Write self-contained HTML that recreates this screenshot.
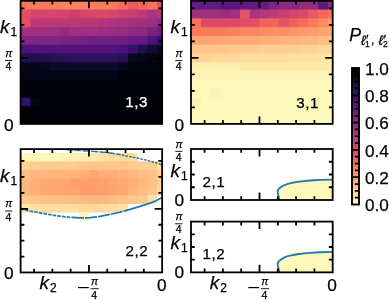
<!DOCTYPE html>
<html><head><meta charset="utf-8"><style>
html,body{margin:0;padding:0;background:#fff;}
body{width:389px;height:300px;overflow:hidden;}
svg{display:block;will-change:transform;}
text{font-family:"Liberation Sans",sans-serif;}
</style></head><body>
<svg width="389" height="300" viewBox="0 0 389 300">
<clipPath id="c1"><rect x="20.60" y="0.80" width="141.55" height="123.10"/></clipPath><g clip-path="url(#c1)">
<rect x="20.60" y="0.80" width="10.79" height="9.77" fill="#f9785d"/>
<rect x="30.39" y="0.80" width="10.76" height="9.77" fill="#f9785d"/>
<rect x="40.15" y="0.80" width="10.76" height="9.77" fill="#f9795d"/>
<rect x="49.91" y="0.80" width="10.76" height="9.77" fill="#fa7d5e"/>
<rect x="59.67" y="0.80" width="10.76" height="9.77" fill="#fb835f"/>
<rect x="69.43" y="0.80" width="10.76" height="9.77" fill="#fb835f"/>
<rect x="79.19" y="0.80" width="10.76" height="9.77" fill="#fb835f"/>
<rect x="88.95" y="0.80" width="10.76" height="9.77" fill="#fa7d5e"/>
<rect x="98.71" y="0.80" width="10.76" height="9.77" fill="#fa7d5e"/>
<rect x="108.47" y="0.80" width="10.76" height="9.77" fill="#f9795d"/>
<rect x="118.23" y="0.80" width="10.76" height="9.77" fill="#f56b5c"/>
<rect x="127.99" y="0.80" width="10.76" height="9.77" fill="#ec5860"/>
<rect x="137.75" y="0.80" width="10.76" height="9.77" fill="#f2645c"/>
<rect x="147.51" y="0.80" width="10.76" height="9.77" fill="#f8745c"/>
<rect x="157.27" y="0.80" width="4.88" height="9.77" fill="#e44f64"/>
<rect x="20.60" y="9.57" width="10.79" height="9.79" fill="#e24d66"/>
<rect x="30.39" y="9.57" width="10.76" height="9.79" fill="#d8456c"/>
<rect x="40.15" y="9.57" width="10.76" height="9.79" fill="#d8456c"/>
<rect x="49.91" y="9.57" width="10.76" height="9.79" fill="#d8456c"/>
<rect x="59.67" y="9.57" width="10.76" height="9.79" fill="#d8456c"/>
<rect x="69.43" y="9.57" width="10.76" height="9.79" fill="#ca3e72"/>
<rect x="79.19" y="9.57" width="10.76" height="9.79" fill="#d6456c"/>
<rect x="88.95" y="9.57" width="10.76" height="9.79" fill="#db476a"/>
<rect x="98.71" y="9.57" width="10.76" height="9.79" fill="#db476a"/>
<rect x="108.47" y="9.57" width="10.76" height="9.79" fill="#d5446d"/>
<rect x="118.23" y="9.57" width="10.76" height="9.79" fill="#d0416f"/>
<rect x="127.99" y="9.57" width="10.76" height="9.79" fill="#ca3e72"/>
<rect x="137.75" y="9.57" width="10.76" height="9.79" fill="#bf3a77"/>
<rect x="147.51" y="9.57" width="10.76" height="9.79" fill="#aa337d"/>
<rect x="157.27" y="9.57" width="4.88" height="9.79" fill="#b73779"/>
<rect x="20.60" y="18.36" width="10.79" height="9.79" fill="#e44f64"/>
<rect x="30.39" y="18.36" width="10.76" height="9.79" fill="#bc3978"/>
<rect x="40.15" y="18.36" width="10.76" height="9.79" fill="#bc3978"/>
<rect x="49.91" y="18.36" width="10.76" height="9.79" fill="#bc3978"/>
<rect x="59.67" y="18.36" width="10.76" height="9.79" fill="#bc3978"/>
<rect x="69.43" y="18.36" width="10.76" height="9.79" fill="#bc3978"/>
<rect x="79.19" y="18.36" width="10.76" height="9.79" fill="#b73779"/>
<rect x="88.95" y="18.36" width="10.76" height="9.79" fill="#b73779"/>
<rect x="98.71" y="18.36" width="10.76" height="9.79" fill="#b2357b"/>
<rect x="108.47" y="18.36" width="10.76" height="9.79" fill="#ad347c"/>
<rect x="118.23" y="18.36" width="10.76" height="9.79" fill="#aa337d"/>
<rect x="127.99" y="18.36" width="10.76" height="9.79" fill="#a5317e"/>
<rect x="137.75" y="18.36" width="10.76" height="9.79" fill="#a1307e"/>
<rect x="147.51" y="18.36" width="10.76" height="9.79" fill="#9c2e7f"/>
<rect x="157.27" y="18.36" width="4.88" height="9.79" fill="#8c2981"/>
<rect x="20.60" y="27.16" width="10.79" height="9.79" fill="#a1307e"/>
<rect x="30.39" y="27.16" width="10.76" height="9.79" fill="#a1307e"/>
<rect x="40.15" y="27.16" width="10.76" height="9.79" fill="#a1307e"/>
<rect x="49.91" y="27.16" width="10.76" height="9.79" fill="#a1307e"/>
<rect x="59.67" y="27.16" width="10.76" height="9.79" fill="#942c80"/>
<rect x="69.43" y="27.16" width="10.76" height="9.79" fill="#a1307e"/>
<rect x="79.19" y="27.16" width="10.76" height="9.79" fill="#a1307e"/>
<rect x="88.95" y="27.16" width="10.76" height="9.79" fill="#a1307e"/>
<rect x="98.71" y="27.16" width="10.76" height="9.79" fill="#9c2e7f"/>
<rect x="108.47" y="27.16" width="10.76" height="9.79" fill="#992d80"/>
<rect x="118.23" y="27.16" width="10.76" height="9.79" fill="#942c80"/>
<rect x="127.99" y="27.16" width="10.76" height="9.79" fill="#902a81"/>
<rect x="137.75" y="27.16" width="10.76" height="9.79" fill="#8c2981"/>
<rect x="147.51" y="27.16" width="10.76" height="9.79" fill="#7c2382"/>
<rect x="157.27" y="27.16" width="4.88" height="9.79" fill="#701f81"/>
<rect x="20.60" y="35.95" width="10.79" height="9.79" fill="#802582"/>
<rect x="30.39" y="35.95" width="10.76" height="9.79" fill="#802582"/>
<rect x="40.15" y="35.95" width="10.76" height="9.79" fill="#802582"/>
<rect x="49.91" y="35.95" width="10.76" height="9.79" fill="#802582"/>
<rect x="59.67" y="35.95" width="10.76" height="9.79" fill="#7c2382"/>
<rect x="69.43" y="35.95" width="10.76" height="9.79" fill="#782281"/>
<rect x="79.19" y="35.95" width="10.76" height="9.79" fill="#752181"/>
<rect x="88.95" y="35.95" width="10.76" height="9.79" fill="#701f81"/>
<rect x="98.71" y="35.95" width="10.76" height="9.79" fill="#701f81"/>
<rect x="108.47" y="35.95" width="10.76" height="9.79" fill="#701f81"/>
<rect x="118.23" y="35.95" width="10.76" height="9.79" fill="#701f81"/>
<rect x="127.99" y="35.95" width="10.76" height="9.79" fill="#641a80"/>
<rect x="137.75" y="35.95" width="10.76" height="9.79" fill="#641a80"/>
<rect x="147.51" y="35.95" width="10.76" height="9.79" fill="#51127c"/>
<rect x="157.27" y="35.95" width="4.88" height="9.79" fill="#3b0f70"/>
<rect x="20.60" y="44.75" width="10.79" height="9.79" fill="#4c117a"/>
<rect x="30.39" y="44.75" width="10.76" height="9.79" fill="#51127c"/>
<rect x="40.15" y="44.75" width="10.76" height="9.79" fill="#51127c"/>
<rect x="49.91" y="44.75" width="10.76" height="9.79" fill="#51127c"/>
<rect x="59.67" y="44.75" width="10.76" height="9.79" fill="#51127c"/>
<rect x="69.43" y="44.75" width="10.76" height="9.79" fill="#51127c"/>
<rect x="79.19" y="44.75" width="10.76" height="9.79" fill="#51127c"/>
<rect x="88.95" y="44.75" width="10.76" height="9.79" fill="#51127c"/>
<rect x="98.71" y="44.75" width="10.76" height="9.79" fill="#51127c"/>
<rect x="108.47" y="44.75" width="10.76" height="9.79" fill="#51127c"/>
<rect x="118.23" y="44.75" width="10.76" height="9.79" fill="#4c117a"/>
<rect x="127.99" y="44.75" width="10.76" height="9.79" fill="#36106b"/>
<rect x="137.75" y="44.75" width="10.76" height="9.79" fill="#1e1149"/>
<rect x="147.51" y="44.75" width="10.76" height="9.79" fill="#120d31"/>
<rect x="157.27" y="44.75" width="4.88" height="9.79" fill="#0b0924"/>
<rect x="20.60" y="53.54" width="10.79" height="9.79" fill="#21114e"/>
<rect x="30.39" y="53.54" width="10.76" height="9.79" fill="#1e1149"/>
<rect x="40.15" y="53.54" width="10.76" height="9.79" fill="#21114e"/>
<rect x="49.91" y="53.54" width="10.76" height="9.79" fill="#251255"/>
<rect x="59.67" y="53.54" width="10.76" height="9.79" fill="#29115a"/>
<rect x="69.43" y="53.54" width="10.76" height="9.79" fill="#2d1161"/>
<rect x="79.19" y="53.54" width="10.76" height="9.79" fill="#2d1161"/>
<rect x="88.95" y="53.54" width="10.76" height="9.79" fill="#2d1161"/>
<rect x="98.71" y="53.54" width="10.76" height="9.79" fill="#2d1161"/>
<rect x="108.47" y="53.54" width="10.76" height="9.79" fill="#2d1161"/>
<rect x="118.23" y="53.54" width="10.76" height="9.79" fill="#29115a"/>
<rect x="127.99" y="53.54" width="10.76" height="9.79" fill="#090720"/>
<rect x="137.75" y="53.54" width="10.76" height="9.79" fill="#06051a"/>
<rect x="147.51" y="53.54" width="10.76" height="9.79" fill="#050416"/>
<rect x="157.27" y="53.54" width="4.88" height="9.79" fill="#050416"/>
<rect x="20.60" y="62.34" width="10.79" height="9.79" fill="#06051a"/>
<rect x="30.39" y="62.34" width="10.76" height="9.79" fill="#06051a"/>
<rect x="40.15" y="62.34" width="10.76" height="9.79" fill="#090720"/>
<rect x="49.91" y="62.34" width="10.76" height="9.79" fill="#0b0924"/>
<rect x="59.67" y="62.34" width="10.76" height="9.79" fill="#0b0924"/>
<rect x="69.43" y="62.34" width="10.76" height="9.79" fill="#0b0924"/>
<rect x="79.19" y="62.34" width="10.76" height="9.79" fill="#0b0924"/>
<rect x="88.95" y="62.34" width="10.76" height="9.79" fill="#0b0924"/>
<rect x="98.71" y="62.34" width="10.76" height="9.79" fill="#0b0924"/>
<rect x="108.47" y="62.34" width="10.76" height="9.79" fill="#0b0924"/>
<rect x="118.23" y="62.34" width="10.76" height="9.79" fill="#06051a"/>
<rect x="127.99" y="62.34" width="10.76" height="9.79" fill="#03030f"/>
<rect x="137.75" y="62.34" width="10.76" height="9.79" fill="#03030f"/>
<rect x="147.51" y="62.34" width="10.76" height="9.79" fill="#03030f"/>
<rect x="157.27" y="62.34" width="4.88" height="9.79" fill="#03030f"/>
<rect x="20.60" y="71.13" width="10.79" height="9.79" fill="#050416"/>
<rect x="30.39" y="71.13" width="10.76" height="9.79" fill="#050416"/>
<rect x="40.15" y="71.13" width="10.76" height="9.79" fill="#050416"/>
<rect x="49.91" y="71.13" width="10.76" height="9.79" fill="#050416"/>
<rect x="59.67" y="71.13" width="10.76" height="9.79" fill="#050416"/>
<rect x="69.43" y="71.13" width="10.76" height="9.79" fill="#050416"/>
<rect x="79.19" y="71.13" width="10.76" height="9.79" fill="#050416"/>
<rect x="88.95" y="71.13" width="10.76" height="9.79" fill="#050416"/>
<rect x="98.71" y="71.13" width="10.76" height="9.79" fill="#050416"/>
<rect x="108.47" y="71.13" width="10.76" height="9.79" fill="#050416"/>
<rect x="118.23" y="71.13" width="10.76" height="9.79" fill="#02020d"/>
<rect x="127.99" y="71.13" width="10.76" height="9.79" fill="#02020d"/>
<rect x="137.75" y="71.13" width="10.76" height="9.79" fill="#02020d"/>
<rect x="147.51" y="71.13" width="10.76" height="9.79" fill="#02020d"/>
<rect x="157.27" y="71.13" width="4.88" height="9.79" fill="#02020d"/>
<rect x="20.60" y="79.93" width="10.79" height="9.79" fill="#02020b"/>
<rect x="30.39" y="79.93" width="10.76" height="9.79" fill="#02020b"/>
<rect x="40.15" y="79.93" width="10.76" height="9.79" fill="#02020b"/>
<rect x="49.91" y="79.93" width="10.76" height="9.79" fill="#02020b"/>
<rect x="59.67" y="79.93" width="10.76" height="9.79" fill="#02020b"/>
<rect x="69.43" y="79.93" width="10.76" height="9.79" fill="#02020b"/>
<rect x="79.19" y="79.93" width="10.76" height="9.79" fill="#02020b"/>
<rect x="88.95" y="79.93" width="10.76" height="9.79" fill="#02020b"/>
<rect x="98.71" y="79.93" width="10.76" height="9.79" fill="#02020b"/>
<rect x="108.47" y="79.93" width="10.76" height="9.79" fill="#02020b"/>
<rect x="118.23" y="79.93" width="10.76" height="9.79" fill="#02020b"/>
<rect x="127.99" y="79.93" width="10.76" height="9.79" fill="#02020b"/>
<rect x="137.75" y="79.93" width="10.76" height="9.79" fill="#02020b"/>
<rect x="147.51" y="79.93" width="10.76" height="9.79" fill="#02020b"/>
<rect x="157.27" y="79.93" width="4.88" height="9.79" fill="#02020b"/>
<rect x="20.60" y="88.72" width="10.79" height="9.79" fill="#010108"/>
<rect x="30.39" y="88.72" width="10.76" height="9.79" fill="#010108"/>
<rect x="40.15" y="88.72" width="10.76" height="9.79" fill="#010108"/>
<rect x="49.91" y="88.72" width="10.76" height="9.79" fill="#010108"/>
<rect x="59.67" y="88.72" width="10.76" height="9.79" fill="#010108"/>
<rect x="69.43" y="88.72" width="10.76" height="9.79" fill="#010108"/>
<rect x="79.19" y="88.72" width="10.76" height="9.79" fill="#010108"/>
<rect x="88.95" y="88.72" width="10.76" height="9.79" fill="#010108"/>
<rect x="98.71" y="88.72" width="10.76" height="9.79" fill="#010108"/>
<rect x="108.47" y="88.72" width="10.76" height="9.79" fill="#010108"/>
<rect x="118.23" y="88.72" width="10.76" height="9.79" fill="#010108"/>
<rect x="127.99" y="88.72" width="10.76" height="9.79" fill="#010108"/>
<rect x="137.75" y="88.72" width="10.76" height="9.79" fill="#010108"/>
<rect x="147.51" y="88.72" width="10.76" height="9.79" fill="#010108"/>
<rect x="157.27" y="88.72" width="4.88" height="9.79" fill="#010108"/>
<rect x="20.60" y="97.52" width="10.79" height="9.79" fill="#331067"/>
<rect x="30.39" y="97.52" width="10.76" height="9.79" fill="#050416"/>
<rect x="40.15" y="97.52" width="10.76" height="9.79" fill="#010108"/>
<rect x="49.91" y="97.52" width="10.76" height="9.79" fill="#010108"/>
<rect x="59.67" y="97.52" width="10.76" height="9.79" fill="#010108"/>
<rect x="69.43" y="97.52" width="10.76" height="9.79" fill="#010108"/>
<rect x="79.19" y="97.52" width="10.76" height="9.79" fill="#010108"/>
<rect x="88.95" y="97.52" width="10.76" height="9.79" fill="#010108"/>
<rect x="98.71" y="97.52" width="10.76" height="9.79" fill="#010108"/>
<rect x="108.47" y="97.52" width="10.76" height="9.79" fill="#010108"/>
<rect x="118.23" y="97.52" width="10.76" height="9.79" fill="#010108"/>
<rect x="127.99" y="97.52" width="10.76" height="9.79" fill="#010108"/>
<rect x="137.75" y="97.52" width="10.76" height="9.79" fill="#010108"/>
<rect x="147.51" y="97.52" width="10.76" height="9.79" fill="#010108"/>
<rect x="157.27" y="97.52" width="4.88" height="9.79" fill="#010108"/>
<rect x="20.60" y="106.31" width="10.79" height="9.79" fill="#010108"/>
<rect x="30.39" y="106.31" width="10.76" height="9.79" fill="#010108"/>
<rect x="40.15" y="106.31" width="10.76" height="9.79" fill="#010108"/>
<rect x="49.91" y="106.31" width="10.76" height="9.79" fill="#010108"/>
<rect x="59.67" y="106.31" width="10.76" height="9.79" fill="#010108"/>
<rect x="69.43" y="106.31" width="10.76" height="9.79" fill="#010108"/>
<rect x="79.19" y="106.31" width="10.76" height="9.79" fill="#010108"/>
<rect x="88.95" y="106.31" width="10.76" height="9.79" fill="#010108"/>
<rect x="98.71" y="106.31" width="10.76" height="9.79" fill="#010108"/>
<rect x="108.47" y="106.31" width="10.76" height="9.79" fill="#010108"/>
<rect x="118.23" y="106.31" width="10.76" height="9.79" fill="#010108"/>
<rect x="127.99" y="106.31" width="10.76" height="9.79" fill="#010108"/>
<rect x="137.75" y="106.31" width="10.76" height="9.79" fill="#010108"/>
<rect x="147.51" y="106.31" width="10.76" height="9.79" fill="#010108"/>
<rect x="157.27" y="106.31" width="4.88" height="9.79" fill="#010108"/>
<rect x="20.60" y="115.11" width="10.79" height="8.79" fill="#010108"/>
<rect x="30.39" y="115.11" width="10.76" height="8.79" fill="#010108"/>
<rect x="40.15" y="115.11" width="10.76" height="8.79" fill="#010108"/>
<rect x="49.91" y="115.11" width="10.76" height="8.79" fill="#010108"/>
<rect x="59.67" y="115.11" width="10.76" height="8.79" fill="#010108"/>
<rect x="69.43" y="115.11" width="10.76" height="8.79" fill="#010108"/>
<rect x="79.19" y="115.11" width="10.76" height="8.79" fill="#010108"/>
<rect x="88.95" y="115.11" width="10.76" height="8.79" fill="#010108"/>
<rect x="98.71" y="115.11" width="10.76" height="8.79" fill="#010108"/>
<rect x="108.47" y="115.11" width="10.76" height="8.79" fill="#010108"/>
<rect x="118.23" y="115.11" width="10.76" height="8.79" fill="#010108"/>
<rect x="127.99" y="115.11" width="10.76" height="8.79" fill="#010108"/>
<rect x="137.75" y="115.11" width="10.76" height="8.79" fill="#010108"/>
<rect x="147.51" y="115.11" width="10.76" height="8.79" fill="#010108"/>
<rect x="157.27" y="115.11" width="4.88" height="8.79" fill="#010108"/>
</g>
<clipPath id="c2"><rect x="191.00" y="0.80" width="141.70" height="123.10"/></clipPath><g clip-path="url(#c2)">
<rect x="191.00" y="0.80" width="10.94" height="9.77" fill="#641a80"/>
<rect x="200.94" y="0.80" width="10.76" height="9.77" fill="#641a80"/>
<rect x="210.70" y="0.80" width="10.76" height="9.77" fill="#641a80"/>
<rect x="220.46" y="0.80" width="10.76" height="9.77" fill="#5c167f"/>
<rect x="230.22" y="0.80" width="10.76" height="9.77" fill="#5c167f"/>
<rect x="239.98" y="0.80" width="10.76" height="9.77" fill="#641a80"/>
<rect x="249.74" y="0.80" width="10.76" height="9.77" fill="#641a80"/>
<rect x="259.50" y="0.80" width="10.76" height="9.77" fill="#681c81"/>
<rect x="269.26" y="0.80" width="10.76" height="9.77" fill="#802582"/>
<rect x="279.02" y="0.80" width="10.76" height="9.77" fill="#8c2981"/>
<rect x="288.78" y="0.80" width="10.76" height="9.77" fill="#8c2981"/>
<rect x="298.54" y="0.80" width="10.76" height="9.77" fill="#942c80"/>
<rect x="308.30" y="0.80" width="10.76" height="9.77" fill="#942c80"/>
<rect x="318.06" y="0.80" width="10.76" height="9.77" fill="#5c167f"/>
<rect x="327.82" y="0.80" width="4.88" height="9.77" fill="#8c2981"/>
<rect x="191.00" y="9.57" width="10.94" height="9.79" fill="#a1307e"/>
<rect x="200.94" y="9.57" width="10.76" height="9.79" fill="#a1307e"/>
<rect x="210.70" y="9.57" width="10.76" height="9.79" fill="#a1307e"/>
<rect x="220.46" y="9.57" width="10.76" height="9.79" fill="#992d80"/>
<rect x="230.22" y="9.57" width="10.76" height="9.79" fill="#a1307e"/>
<rect x="239.98" y="9.57" width="10.76" height="9.79" fill="#e85362"/>
<rect x="249.74" y="9.57" width="10.76" height="9.79" fill="#aa337d"/>
<rect x="259.50" y="9.57" width="10.76" height="9.79" fill="#b73779"/>
<rect x="269.26" y="9.57" width="10.76" height="9.79" fill="#c23b75"/>
<rect x="279.02" y="9.57" width="10.76" height="9.79" fill="#ca3e72"/>
<rect x="288.78" y="9.57" width="10.76" height="9.79" fill="#d6456c"/>
<rect x="298.54" y="9.57" width="10.76" height="9.79" fill="#de4968"/>
<rect x="308.30" y="9.57" width="10.76" height="9.79" fill="#ea5661"/>
<rect x="318.06" y="9.57" width="10.76" height="9.79" fill="#f4675c"/>
<rect x="327.82" y="9.57" width="4.88" height="9.79" fill="#f7705c"/>
<rect x="191.00" y="18.36" width="10.94" height="9.79" fill="#f7705c"/>
<rect x="200.94" y="18.36" width="10.76" height="9.79" fill="#de4968"/>
<rect x="210.70" y="18.36" width="10.76" height="9.79" fill="#de4968"/>
<rect x="220.46" y="18.36" width="10.76" height="9.79" fill="#de4968"/>
<rect x="230.22" y="18.36" width="10.76" height="9.79" fill="#de4968"/>
<rect x="239.98" y="18.36" width="10.76" height="9.79" fill="#e24d66"/>
<rect x="249.74" y="18.36" width="10.76" height="9.79" fill="#e44f64"/>
<rect x="259.50" y="18.36" width="10.76" height="9.79" fill="#f2625d"/>
<rect x="269.26" y="18.36" width="10.76" height="9.79" fill="#f2625d"/>
<rect x="279.02" y="18.36" width="10.76" height="9.79" fill="#e85362"/>
<rect x="288.78" y="18.36" width="10.76" height="9.79" fill="#f2625d"/>
<rect x="298.54" y="18.36" width="10.76" height="9.79" fill="#f56b5c"/>
<rect x="308.30" y="18.36" width="10.76" height="9.79" fill="#f9795d"/>
<rect x="318.06" y="18.36" width="10.76" height="9.79" fill="#fc8961"/>
<rect x="327.82" y="18.36" width="4.88" height="9.79" fill="#fd9b6b"/>
<rect x="191.00" y="27.16" width="10.94" height="9.79" fill="#f9785d"/>
<rect x="200.94" y="27.16" width="10.76" height="9.79" fill="#f9795d"/>
<rect x="210.70" y="27.16" width="10.76" height="9.79" fill="#f97b5d"/>
<rect x="220.46" y="27.16" width="10.76" height="9.79" fill="#f97b5d"/>
<rect x="230.22" y="27.16" width="10.76" height="9.79" fill="#fa815f"/>
<rect x="239.98" y="27.16" width="10.76" height="9.79" fill="#fb8560"/>
<rect x="249.74" y="27.16" width="10.76" height="9.79" fill="#fb8560"/>
<rect x="259.50" y="27.16" width="10.76" height="9.79" fill="#fc8a62"/>
<rect x="269.26" y="27.16" width="10.76" height="9.79" fill="#fc8e64"/>
<rect x="279.02" y="27.16" width="10.76" height="9.79" fill="#fc8e64"/>
<rect x="288.78" y="27.16" width="10.76" height="9.79" fill="#fd9467"/>
<rect x="298.54" y="27.16" width="10.76" height="9.79" fill="#fd9869"/>
<rect x="308.30" y="27.16" width="10.76" height="9.79" fill="#fe9d6c"/>
<rect x="318.06" y="27.16" width="10.76" height="9.79" fill="#fea36f"/>
<rect x="327.82" y="27.16" width="4.88" height="9.79" fill="#fea772"/>
<rect x="191.00" y="35.95" width="10.94" height="9.79" fill="#fea571"/>
<rect x="200.94" y="35.95" width="10.76" height="9.79" fill="#fea571"/>
<rect x="210.70" y="35.95" width="10.76" height="9.79" fill="#fea571"/>
<rect x="220.46" y="35.95" width="10.76" height="9.79" fill="#fea973"/>
<rect x="230.22" y="35.95" width="10.76" height="9.79" fill="#fea973"/>
<rect x="239.98" y="35.95" width="10.76" height="9.79" fill="#fea973"/>
<rect x="249.74" y="35.95" width="10.76" height="9.79" fill="#fea973"/>
<rect x="259.50" y="35.95" width="10.76" height="9.79" fill="#feae77"/>
<rect x="269.26" y="35.95" width="10.76" height="9.79" fill="#feae77"/>
<rect x="279.02" y="35.95" width="10.76" height="9.79" fill="#feb47b"/>
<rect x="288.78" y="35.95" width="10.76" height="9.79" fill="#feb47b"/>
<rect x="298.54" y="35.95" width="10.76" height="9.79" fill="#feb77e"/>
<rect x="308.30" y="35.95" width="10.76" height="9.79" fill="#feb77e"/>
<rect x="318.06" y="35.95" width="10.76" height="9.79" fill="#febd82"/>
<rect x="327.82" y="35.95" width="4.88" height="9.79" fill="#fec185"/>
<rect x="191.00" y="44.75" width="10.94" height="9.79" fill="#fec68a"/>
<rect x="200.94" y="44.75" width="10.76" height="9.79" fill="#fec68a"/>
<rect x="210.70" y="44.75" width="10.76" height="9.79" fill="#fec68a"/>
<rect x="220.46" y="44.75" width="10.76" height="9.79" fill="#fec68a"/>
<rect x="230.22" y="44.75" width="10.76" height="9.79" fill="#feca8d"/>
<rect x="239.98" y="44.75" width="10.76" height="9.79" fill="#feca8d"/>
<rect x="249.74" y="44.75" width="10.76" height="9.79" fill="#feca8d"/>
<rect x="259.50" y="44.75" width="10.76" height="9.79" fill="#fecf92"/>
<rect x="269.26" y="44.75" width="10.76" height="9.79" fill="#fecf92"/>
<rect x="279.02" y="44.75" width="10.76" height="9.79" fill="#fecf92"/>
<rect x="288.78" y="44.75" width="10.76" height="9.79" fill="#fecf92"/>
<rect x="298.54" y="44.75" width="10.76" height="9.79" fill="#fed395"/>
<rect x="308.30" y="44.75" width="10.76" height="9.79" fill="#fed395"/>
<rect x="318.06" y="44.75" width="10.76" height="9.79" fill="#fed89a"/>
<rect x="327.82" y="44.75" width="4.88" height="9.79" fill="#fed89a"/>
<rect x="191.00" y="53.54" width="10.94" height="9.79" fill="#fed395"/>
<rect x="200.94" y="53.54" width="10.76" height="9.79" fill="#fed395"/>
<rect x="210.70" y="53.54" width="10.76" height="9.79" fill="#fed89a"/>
<rect x="220.46" y="53.54" width="10.76" height="9.79" fill="#fed89a"/>
<rect x="230.22" y="53.54" width="10.76" height="9.79" fill="#fed89a"/>
<rect x="239.98" y="53.54" width="10.76" height="9.79" fill="#fddea0"/>
<rect x="249.74" y="53.54" width="10.76" height="9.79" fill="#fddea0"/>
<rect x="259.50" y="53.54" width="10.76" height="9.79" fill="#fddea0"/>
<rect x="269.26" y="53.54" width="10.76" height="9.79" fill="#fddea0"/>
<rect x="279.02" y="53.54" width="10.76" height="9.79" fill="#fddea0"/>
<rect x="288.78" y="53.54" width="10.76" height="9.79" fill="#fde2a3"/>
<rect x="298.54" y="53.54" width="10.76" height="9.79" fill="#fde2a3"/>
<rect x="308.30" y="53.54" width="10.76" height="9.79" fill="#fde2a3"/>
<rect x="318.06" y="53.54" width="10.76" height="9.79" fill="#fde2a3"/>
<rect x="327.82" y="53.54" width="4.88" height="9.79" fill="#fde7a9"/>
<rect x="191.00" y="62.34" width="10.94" height="9.79" fill="#fceeb0"/>
<rect x="200.94" y="62.34" width="10.76" height="9.79" fill="#fceeb0"/>
<rect x="210.70" y="62.34" width="10.76" height="9.79" fill="#fceeb0"/>
<rect x="220.46" y="62.34" width="10.76" height="9.79" fill="#fceeb0"/>
<rect x="230.22" y="62.34" width="10.76" height="9.79" fill="#fceeb0"/>
<rect x="239.98" y="62.34" width="10.76" height="9.79" fill="#fde9aa"/>
<rect x="249.74" y="62.34" width="10.76" height="9.79" fill="#fde9aa"/>
<rect x="259.50" y="62.34" width="10.76" height="9.79" fill="#fde9aa"/>
<rect x="269.26" y="62.34" width="10.76" height="9.79" fill="#fde9aa"/>
<rect x="279.02" y="62.34" width="10.76" height="9.79" fill="#fde9aa"/>
<rect x="288.78" y="62.34" width="10.76" height="9.79" fill="#fde9aa"/>
<rect x="298.54" y="62.34" width="10.76" height="9.79" fill="#fde9aa"/>
<rect x="308.30" y="62.34" width="10.76" height="9.79" fill="#fde9aa"/>
<rect x="318.06" y="62.34" width="10.76" height="9.79" fill="#fde9aa"/>
<rect x="327.82" y="62.34" width="4.88" height="9.79" fill="#fde9aa"/>
<rect x="191.00" y="71.13" width="10.94" height="9.79" fill="#fcf4b6"/>
<rect x="200.94" y="71.13" width="10.76" height="9.79" fill="#fcf4b6"/>
<rect x="210.70" y="71.13" width="10.76" height="9.79" fill="#fcf4b6"/>
<rect x="220.46" y="71.13" width="10.76" height="9.79" fill="#fcf4b6"/>
<rect x="230.22" y="71.13" width="10.76" height="9.79" fill="#fcf4b6"/>
<rect x="239.98" y="71.13" width="10.76" height="9.79" fill="#fcf4b6"/>
<rect x="249.74" y="71.13" width="10.76" height="9.79" fill="#fcf4b6"/>
<rect x="259.50" y="71.13" width="10.76" height="9.79" fill="#fcf4b6"/>
<rect x="269.26" y="71.13" width="10.76" height="9.79" fill="#fcf4b6"/>
<rect x="279.02" y="71.13" width="10.76" height="9.79" fill="#fcf4b6"/>
<rect x="288.78" y="71.13" width="10.76" height="9.79" fill="#fcf4b6"/>
<rect x="298.54" y="71.13" width="10.76" height="9.79" fill="#fcf4b6"/>
<rect x="308.30" y="71.13" width="10.76" height="9.79" fill="#fcf4b6"/>
<rect x="318.06" y="71.13" width="10.76" height="9.79" fill="#fcf4b6"/>
<rect x="327.82" y="71.13" width="4.88" height="9.79" fill="#fcf4b6"/>
<rect x="191.00" y="79.93" width="10.94" height="9.79" fill="#fcf9bb"/>
<rect x="200.94" y="79.93" width="10.76" height="9.79" fill="#fcf9bb"/>
<rect x="210.70" y="79.93" width="10.76" height="9.79" fill="#fcf9bb"/>
<rect x="220.46" y="79.93" width="10.76" height="9.79" fill="#fcf9bb"/>
<rect x="230.22" y="79.93" width="10.76" height="9.79" fill="#fcf9bb"/>
<rect x="239.98" y="79.93" width="10.76" height="9.79" fill="#fcf9bb"/>
<rect x="249.74" y="79.93" width="10.76" height="9.79" fill="#fcf9bb"/>
<rect x="259.50" y="79.93" width="10.76" height="9.79" fill="#fcf9bb"/>
<rect x="269.26" y="79.93" width="10.76" height="9.79" fill="#fcf9bb"/>
<rect x="279.02" y="79.93" width="10.76" height="9.79" fill="#fcf9bb"/>
<rect x="288.78" y="79.93" width="10.76" height="9.79" fill="#fcf9bb"/>
<rect x="298.54" y="79.93" width="10.76" height="9.79" fill="#fcf9bb"/>
<rect x="308.30" y="79.93" width="10.76" height="9.79" fill="#fcf9bb"/>
<rect x="318.06" y="79.93" width="10.76" height="9.79" fill="#fcf9bb"/>
<rect x="327.82" y="79.93" width="4.88" height="9.79" fill="#fcf9bb"/>
<rect x="191.00" y="88.72" width="10.94" height="9.79" fill="#fcf9bb"/>
<rect x="200.94" y="88.72" width="10.76" height="9.79" fill="#fcf9bb"/>
<rect x="210.70" y="88.72" width="10.76" height="9.79" fill="#fcf2b4"/>
<rect x="220.46" y="88.72" width="10.76" height="9.79" fill="#fcf9bb"/>
<rect x="230.22" y="88.72" width="10.76" height="9.79" fill="#fcf9bb"/>
<rect x="239.98" y="88.72" width="10.76" height="9.79" fill="#fcf9bb"/>
<rect x="249.74" y="88.72" width="10.76" height="9.79" fill="#fcf9bb"/>
<rect x="259.50" y="88.72" width="10.76" height="9.79" fill="#fcf9bb"/>
<rect x="269.26" y="88.72" width="10.76" height="9.79" fill="#fcf9bb"/>
<rect x="279.02" y="88.72" width="10.76" height="9.79" fill="#fcf9bb"/>
<rect x="288.78" y="88.72" width="10.76" height="9.79" fill="#fcf9bb"/>
<rect x="298.54" y="88.72" width="10.76" height="9.79" fill="#fcf9bb"/>
<rect x="308.30" y="88.72" width="10.76" height="9.79" fill="#fcf9bb"/>
<rect x="318.06" y="88.72" width="10.76" height="9.79" fill="#fcf9bb"/>
<rect x="327.82" y="88.72" width="4.88" height="9.79" fill="#fcf9bb"/>
<rect x="191.00" y="97.52" width="10.94" height="9.79" fill="#fcf2b4"/>
<rect x="200.94" y="97.52" width="10.76" height="9.79" fill="#fcf9bb"/>
<rect x="210.70" y="97.52" width="10.76" height="9.79" fill="#fcf9bb"/>
<rect x="220.46" y="97.52" width="10.76" height="9.79" fill="#fcf9bb"/>
<rect x="230.22" y="97.52" width="10.76" height="9.79" fill="#fcf9bb"/>
<rect x="239.98" y="97.52" width="10.76" height="9.79" fill="#fcf9bb"/>
<rect x="249.74" y="97.52" width="10.76" height="9.79" fill="#fcf9bb"/>
<rect x="259.50" y="97.52" width="10.76" height="9.79" fill="#fcf9bb"/>
<rect x="269.26" y="97.52" width="10.76" height="9.79" fill="#fcf9bb"/>
<rect x="279.02" y="97.52" width="10.76" height="9.79" fill="#fcf9bb"/>
<rect x="288.78" y="97.52" width="10.76" height="9.79" fill="#fcf9bb"/>
<rect x="298.54" y="97.52" width="10.76" height="9.79" fill="#fcf9bb"/>
<rect x="308.30" y="97.52" width="10.76" height="9.79" fill="#fcf9bb"/>
<rect x="318.06" y="97.52" width="10.76" height="9.79" fill="#fcf9bb"/>
<rect x="327.82" y="97.52" width="4.88" height="9.79" fill="#fcf9bb"/>
<rect x="191.00" y="106.31" width="10.94" height="9.79" fill="#fcf9bb"/>
<rect x="200.94" y="106.31" width="10.76" height="9.79" fill="#fcf9bb"/>
<rect x="210.70" y="106.31" width="10.76" height="9.79" fill="#fcf9bb"/>
<rect x="220.46" y="106.31" width="10.76" height="9.79" fill="#fcf9bb"/>
<rect x="230.22" y="106.31" width="10.76" height="9.79" fill="#fcf9bb"/>
<rect x="239.98" y="106.31" width="10.76" height="9.79" fill="#fcf9bb"/>
<rect x="249.74" y="106.31" width="10.76" height="9.79" fill="#fcf9bb"/>
<rect x="259.50" y="106.31" width="10.76" height="9.79" fill="#fcf9bb"/>
<rect x="269.26" y="106.31" width="10.76" height="9.79" fill="#fcf9bb"/>
<rect x="279.02" y="106.31" width="10.76" height="9.79" fill="#fcf9bb"/>
<rect x="288.78" y="106.31" width="10.76" height="9.79" fill="#fcf9bb"/>
<rect x="298.54" y="106.31" width="10.76" height="9.79" fill="#fcf9bb"/>
<rect x="308.30" y="106.31" width="10.76" height="9.79" fill="#fcf9bb"/>
<rect x="318.06" y="106.31" width="10.76" height="9.79" fill="#fcf9bb"/>
<rect x="327.82" y="106.31" width="4.88" height="9.79" fill="#fcf9bb"/>
<rect x="191.00" y="115.11" width="10.94" height="8.79" fill="#fcf9bb"/>
<rect x="200.94" y="115.11" width="10.76" height="8.79" fill="#fcf9bb"/>
<rect x="210.70" y="115.11" width="10.76" height="8.79" fill="#fcf9bb"/>
<rect x="220.46" y="115.11" width="10.76" height="8.79" fill="#fcf9bb"/>
<rect x="230.22" y="115.11" width="10.76" height="8.79" fill="#fcf9bb"/>
<rect x="239.98" y="115.11" width="10.76" height="8.79" fill="#fcf9bb"/>
<rect x="249.74" y="115.11" width="10.76" height="8.79" fill="#fcf9bb"/>
<rect x="259.50" y="115.11" width="10.76" height="8.79" fill="#fcf9bb"/>
<rect x="269.26" y="115.11" width="10.76" height="8.79" fill="#fcf9bb"/>
<rect x="279.02" y="115.11" width="10.76" height="8.79" fill="#fcf9bb"/>
<rect x="288.78" y="115.11" width="10.76" height="8.79" fill="#fcf9bb"/>
<rect x="298.54" y="115.11" width="10.76" height="8.79" fill="#fcf9bb"/>
<rect x="308.30" y="115.11" width="10.76" height="8.79" fill="#fcf9bb"/>
<rect x="318.06" y="115.11" width="10.76" height="8.79" fill="#fcf9bb"/>
<rect x="327.82" y="115.11" width="4.88" height="8.79" fill="#fcf9bb"/>
</g>
<clipPath id="c3"><rect x="20.60" y="149.10" width="141.55" height="123.35"/></clipPath><g clip-path="url(#c3)">
<rect x="20.60" y="152.92" width="10.79" height="9.52" fill="#fcf7b9"/>
<rect x="30.39" y="152.92" width="10.76" height="9.52" fill="#fcf7b9"/>
<rect x="40.15" y="152.92" width="10.76" height="9.52" fill="#fcf7b9"/>
<rect x="49.91" y="152.92" width="10.76" height="9.52" fill="#fcf7b9"/>
<rect x="59.67" y="152.92" width="10.76" height="9.52" fill="#fcf4b6"/>
<rect x="69.43" y="152.92" width="10.76" height="9.52" fill="#fcf0b2"/>
<rect x="79.19" y="152.92" width="10.76" height="9.52" fill="#fceeb0"/>
<rect x="88.95" y="152.92" width="10.76" height="9.52" fill="#fde9aa"/>
<rect x="98.71" y="152.92" width="10.76" height="9.52" fill="#fde3a5"/>
<rect x="108.47" y="152.92" width="10.76" height="9.52" fill="#fddea0"/>
<rect x="118.23" y="152.92" width="10.76" height="9.52" fill="#fed799"/>
<rect x="127.99" y="152.92" width="9.76" height="9.52" fill="#fddea0"/>
<rect x="20.60" y="161.44" width="10.79" height="9.52" fill="#fed194"/>
<rect x="30.39" y="161.44" width="10.76" height="9.52" fill="#fecd90"/>
<rect x="40.15" y="161.44" width="10.76" height="9.52" fill="#feca8d"/>
<rect x="49.91" y="161.44" width="10.76" height="9.52" fill="#feca8d"/>
<rect x="59.67" y="161.44" width="10.76" height="9.52" fill="#feca8d"/>
<rect x="69.43" y="161.44" width="10.76" height="9.52" fill="#feca8d"/>
<rect x="79.19" y="161.44" width="10.76" height="9.52" fill="#fec68a"/>
<rect x="88.95" y="161.44" width="10.76" height="9.52" fill="#fec68a"/>
<rect x="98.71" y="161.44" width="10.76" height="9.52" fill="#fec68a"/>
<rect x="108.47" y="161.44" width="10.76" height="9.52" fill="#fec68a"/>
<rect x="118.23" y="161.44" width="10.76" height="9.52" fill="#fec488"/>
<rect x="127.99" y="161.44" width="10.76" height="9.52" fill="#feca8d"/>
<rect x="137.75" y="161.44" width="10.76" height="9.52" fill="#fecf92"/>
<rect x="147.51" y="161.44" width="10.76" height="9.52" fill="#fecf92"/>
<rect x="157.27" y="161.44" width="4.88" height="9.52" fill="#fde2a3"/>
<rect x="20.60" y="169.96" width="10.79" height="9.52" fill="#fec185"/>
<rect x="30.39" y="169.96" width="10.76" height="9.52" fill="#feb77e"/>
<rect x="40.15" y="169.96" width="10.76" height="9.52" fill="#feb77e"/>
<rect x="49.91" y="169.96" width="10.76" height="9.52" fill="#feb67c"/>
<rect x="59.67" y="169.96" width="10.76" height="9.52" fill="#feb67c"/>
<rect x="69.43" y="169.96" width="10.76" height="9.52" fill="#feb47b"/>
<rect x="79.19" y="169.96" width="10.76" height="9.52" fill="#feb078"/>
<rect x="88.95" y="169.96" width="10.76" height="9.52" fill="#fea571"/>
<rect x="98.71" y="169.96" width="10.76" height="9.52" fill="#feae77"/>
<rect x="108.47" y="169.96" width="10.76" height="9.52" fill="#feae77"/>
<rect x="118.23" y="169.96" width="10.76" height="9.52" fill="#feb47b"/>
<rect x="127.99" y="169.96" width="10.76" height="9.52" fill="#feb77e"/>
<rect x="137.75" y="169.96" width="10.76" height="9.52" fill="#febd82"/>
<rect x="147.51" y="169.96" width="10.76" height="9.52" fill="#fec185"/>
<rect x="157.27" y="169.96" width="4.88" height="9.52" fill="#fecf92"/>
<rect x="20.60" y="178.48" width="10.79" height="9.52" fill="#feb67c"/>
<rect x="30.39" y="178.48" width="10.76" height="9.52" fill="#feae77"/>
<rect x="40.15" y="178.48" width="10.76" height="9.52" fill="#fea973"/>
<rect x="49.91" y="178.48" width="10.76" height="9.52" fill="#fea973"/>
<rect x="59.67" y="178.48" width="10.76" height="9.52" fill="#fea772"/>
<rect x="69.43" y="178.48" width="10.76" height="9.52" fill="#fe9f6d"/>
<rect x="79.19" y="178.48" width="10.76" height="9.52" fill="#fe9f6d"/>
<rect x="88.95" y="178.48" width="10.76" height="9.52" fill="#fe9d6c"/>
<rect x="98.71" y="178.48" width="10.76" height="9.52" fill="#fe9f6d"/>
<rect x="108.47" y="178.48" width="10.76" height="9.52" fill="#fea571"/>
<rect x="118.23" y="178.48" width="10.76" height="9.52" fill="#fea973"/>
<rect x="127.99" y="178.48" width="10.76" height="9.52" fill="#feae77"/>
<rect x="137.75" y="178.48" width="10.76" height="9.52" fill="#feb77e"/>
<rect x="147.51" y="178.48" width="10.76" height="9.52" fill="#fec185"/>
<rect x="157.27" y="178.48" width="4.88" height="9.52" fill="#fed395"/>
<rect x="20.60" y="187.00" width="10.79" height="9.52" fill="#feb67c"/>
<rect x="30.39" y="187.00" width="10.76" height="9.52" fill="#feb078"/>
<rect x="40.15" y="187.00" width="10.76" height="9.52" fill="#fea973"/>
<rect x="49.91" y="187.00" width="10.76" height="9.52" fill="#fea772"/>
<rect x="59.67" y="187.00" width="10.76" height="9.52" fill="#fea571"/>
<rect x="69.43" y="187.00" width="10.76" height="9.52" fill="#fea36f"/>
<rect x="79.19" y="187.00" width="10.76" height="9.52" fill="#fe9f6d"/>
<rect x="88.95" y="187.00" width="10.76" height="9.52" fill="#fe9f6d"/>
<rect x="98.71" y="187.00" width="10.76" height="9.52" fill="#fe9f6d"/>
<rect x="108.47" y="187.00" width="10.76" height="9.52" fill="#fea571"/>
<rect x="118.23" y="187.00" width="10.76" height="9.52" fill="#fea973"/>
<rect x="127.99" y="187.00" width="10.76" height="9.52" fill="#feb47b"/>
<rect x="137.75" y="187.00" width="10.76" height="9.52" fill="#febd82"/>
<rect x="147.51" y="187.00" width="9.76" height="8.52" fill="#fec68a"/>
<rect x="157.27" y="187.00" width="4.88" height="8.52" fill="#fed89a"/>
<rect x="20.60" y="195.52" width="10.79" height="9.52" fill="#feca8d"/>
<rect x="30.39" y="195.52" width="10.76" height="9.52" fill="#fec488"/>
<rect x="40.15" y="195.52" width="10.76" height="9.52" fill="#fec185"/>
<rect x="49.91" y="195.52" width="10.76" height="9.52" fill="#febf84"/>
<rect x="59.67" y="195.52" width="10.76" height="9.52" fill="#febd82"/>
<rect x="69.43" y="195.52" width="10.76" height="9.52" fill="#febd82"/>
<rect x="79.19" y="195.52" width="10.76" height="9.52" fill="#feb97f"/>
<rect x="88.95" y="195.52" width="10.76" height="9.52" fill="#feb77e"/>
<rect x="98.71" y="195.52" width="10.76" height="9.52" fill="#feb97f"/>
<rect x="108.47" y="195.52" width="10.76" height="9.52" fill="#febd82"/>
<rect x="118.23" y="195.52" width="9.76" height="8.52" fill="#fec185"/>
<rect x="127.99" y="195.52" width="10.76" height="8.52" fill="#fec68a"/>
<rect x="137.75" y="195.52" width="10.76" height="8.52" fill="#feca8d"/>
<rect x="147.51" y="195.52" width="9.76" height="8.52" fill="#fde2a3"/>
<rect x="20.60" y="204.04" width="10.79" height="8.52" fill="#fdebac"/>
<rect x="30.39" y="204.04" width="10.76" height="8.52" fill="#fddea0"/>
<rect x="40.15" y="204.04" width="10.76" height="8.52" fill="#fddea0"/>
<rect x="49.91" y="204.04" width="10.76" height="8.52" fill="#fddea0"/>
<rect x="59.67" y="204.04" width="10.76" height="8.52" fill="#fddea0"/>
<rect x="69.43" y="204.04" width="10.76" height="8.52" fill="#fddea0"/>
<rect x="79.19" y="204.04" width="9.76" height="8.52" fill="#fed89a"/>
<rect x="88.95" y="204.04" width="10.76" height="8.52" fill="#fed89a"/>
<rect x="98.71" y="204.04" width="10.76" height="8.52" fill="#fddea0"/>
<rect x="108.47" y="204.04" width="10.76" height="8.52" fill="#fddea0"/>
<rect x="118.23" y="204.04" width="9.76" height="8.52" fill="#fde2a3"/>
<rect x="79.19" y="212.56" width="9.76" height="8.52" fill="#fcf4b6"/>
</g>
<path d="M278.00 200.00V186.40H288.50V179.40H332.70V200.00Z" fill="#fcf9bb"/>
<path d="M278.00 272.35V258.75H288.50V251.75H332.70V272.35Z" fill="#fcf9bb"/>
<path d="M279.30 200.00 L278.60 196.40 L277.70 192.70 L277.70 190.80 L278.60 189.20 L280.50 187.50 L283.00 185.80 L287.00 184.10 L291.80 182.90 L297.40 181.90 L303.90 181.10 L310.00 180.50 L320.00 179.90 L332.70 179.60" stroke="#1f77b4" stroke-width="1.8" fill="none" stroke-linejoin="round"/>
<path d="M279.30 272.35 L278.60 268.75 L277.70 265.05 L277.70 263.15 L278.60 261.55 L280.50 259.85 L283.00 258.15 L287.00 256.45 L291.80 255.25 L297.40 254.25 L303.90 253.45 L310.00 252.85 L320.00 252.25 L332.70 251.95" stroke="#1f77b4" stroke-width="1.8" fill="none" stroke-linejoin="round"/>
<path d="M66.00 149.60 L75.00 150.30 L87.00 150.90 L100.00 151.90 L110.00 153.00 L118.00 154.20" stroke="#1f77b4" stroke-width="1.50" fill="none" stroke-dasharray="7 1.4"/>
<path d="M118.00 154.20 L126.00 155.90 L132.00 157.10 L140.00 158.70 L146.00 160.10 L152.00 161.70 L158.00 163.40 L162.15 164.90" stroke="#1f77b4" stroke-width="1.50" fill="none" stroke-dasharray="2.6 1.2"/>
<path d="M20.35 208.90 L30.00 211.00 L40.00 212.80 L50.00 214.60 L60.00 216.20 L70.00 217.30 L72.00 217.40" stroke="#1f77b4" stroke-width="1.75" fill="none" stroke-dasharray="3.6 1.1"/>
<path d="M72.00 217.40 L80.00 217.80 L90.00 217.70 L100.00 216.40 L110.00 214.40 L120.00 212.10 L125.00 210.75" stroke="#1f77b4" stroke-width="1.75" fill="none" stroke-dasharray="12 1.0"/>
<path d="M125.00 210.75 L130.00 209.40 L140.00 206.30 L150.00 203.10 L156.00 200.80 L162.15 197.40" stroke="#1f77b4" stroke-width="1.75" fill="none"/>
<path d="M143.85 123.90v-3.80M143.85 0.80v3.80M125.55 123.90v-3.80M125.55 0.80v3.80M107.25 123.90v-3.80M107.25 0.80v3.80M88.95 123.90v-7.50M88.95 0.80v7.50M70.65 123.90v-3.80M70.65 0.80v3.80M52.35 123.90v-3.80M52.35 0.80v3.80M34.05 123.90v-3.80M34.05 0.80v3.80M20.60 107.41h3.80M162.15 107.41h-3.80M20.60 90.92h3.80M162.15 90.92h-3.80M20.60 74.43h3.80M162.15 74.43h-3.80M20.60 57.94h7.50M162.15 57.94h-7.50M20.60 41.45h3.80M162.15 41.45h-3.80M20.60 24.96h3.80M162.15 24.96h-3.80M20.60 8.47h3.80M162.15 8.47h-3.80" stroke="#000" stroke-width="1.80" fill="none"/>
<rect x="20.60" y="0.80" width="141.55" height="123.10" fill="none" stroke="#000" stroke-width="1.80"/>
<path d="M314.40 123.90v-3.80M314.40 0.80v3.80M296.10 123.90v-3.80M296.10 0.80v3.80M277.80 123.90v-3.80M277.80 0.80v3.80M259.50 123.90v-7.50M259.50 0.80v7.50M241.20 123.90v-3.80M241.20 0.80v3.80M222.90 123.90v-3.80M222.90 0.80v3.80M204.60 123.90v-3.80M204.60 0.80v3.80M191.00 107.41h3.80M332.70 107.41h-3.80M191.00 90.92h3.80M332.70 90.92h-3.80M191.00 74.43h3.80M332.70 74.43h-3.80M191.00 57.94h7.50M332.70 57.94h-7.50M191.00 41.45h3.80M332.70 41.45h-3.80M191.00 24.96h3.80M332.70 24.96h-3.80M191.00 8.47h3.80M332.70 8.47h-3.80" stroke="#000" stroke-width="1.80" fill="none"/>
<rect x="191.00" y="0.80" width="141.70" height="123.10" fill="none" stroke="#000" stroke-width="1.80"/>
<path d="M143.85 272.45v-3.80M143.85 149.10v3.80M125.55 272.45v-3.80M125.55 149.10v3.80M107.25 272.45v-3.80M107.25 149.10v3.80M88.95 272.45v-7.50M88.95 149.10v7.50M70.65 272.45v-3.80M70.65 149.10v3.80M52.35 272.45v-3.80M52.35 149.10v3.80M34.05 272.45v-3.80M34.05 149.10v3.80M20.60 256.65h3.80M162.15 256.65h-3.80M20.60 240.70h3.80M162.15 240.70h-3.80M20.60 224.75h3.80M162.15 224.75h-3.80M20.60 208.80h7.50M162.15 208.80h-7.50M20.60 192.85h3.80M162.15 192.85h-3.80M20.60 176.90h3.80M162.15 176.90h-3.80M20.60 160.95h3.80M162.15 160.95h-3.80" stroke="#000" stroke-width="1.80" fill="none"/>
<rect x="20.60" y="149.10" width="141.55" height="123.35" fill="none" stroke="#000" stroke-width="1.80"/>
<path d="M314.40 200.00v-3.80M314.40 149.00v3.80M296.10 200.00v-3.80M296.10 149.00v3.80M277.80 200.00v-3.80M277.80 149.00v3.80M259.50 200.00v-7.50M259.50 149.00v7.50M241.20 200.00v-3.80M241.20 149.00v3.80M222.90 200.00v-3.80M222.90 149.00v3.80M204.60 200.00v-3.80M204.60 149.00v3.80M191.00 187.25h3.80M332.70 187.25h-3.80M191.00 174.50h3.80M332.70 174.50h-3.80M191.00 161.75h3.80M332.70 161.75h-3.80" stroke="#000" stroke-width="1.80" fill="none"/>
<rect x="191.00" y="149.00" width="141.70" height="51.00" fill="none" stroke="#000" stroke-width="1.80"/>
<path d="M314.40 272.35v-3.80M314.40 221.60v3.80M296.10 272.35v-3.80M296.10 221.60v3.80M277.80 272.35v-3.80M277.80 221.60v3.80M259.50 272.35v-7.50M259.50 221.60v7.50M241.20 272.35v-3.80M241.20 221.60v3.80M222.90 272.35v-3.80M222.90 221.60v3.80M204.60 272.35v-3.80M204.60 221.60v3.80M191.00 259.66h3.80M332.70 259.66h-3.80M191.00 246.98h3.80M332.70 246.98h-3.80M191.00 234.29h3.80M332.70 234.29h-3.80" stroke="#000" stroke-width="1.80" fill="none"/>
<rect x="191.00" y="221.60" width="141.70" height="50.75" fill="none" stroke="#000" stroke-width="1.80"/>
<defs><linearGradient id="cb" x1="0" y1="0" x2="0" y2="1"><stop offset="0.000" stop-color="#000004"/><stop offset="0.050" stop-color="#06051a"/><stop offset="0.100" stop-color="#140e36"/><stop offset="0.150" stop-color="#251255"/><stop offset="0.200" stop-color="#3b0f70"/><stop offset="0.250" stop-color="#51127c"/><stop offset="0.300" stop-color="#641a80"/><stop offset="0.350" stop-color="#782281"/><stop offset="0.400" stop-color="#8c2981"/><stop offset="0.450" stop-color="#a1307e"/><stop offset="0.500" stop-color="#b73779"/><stop offset="0.550" stop-color="#ca3e72"/><stop offset="0.600" stop-color="#de4968"/><stop offset="0.650" stop-color="#ed5a5f"/><stop offset="0.700" stop-color="#f7705c"/><stop offset="0.750" stop-color="#fc8961"/><stop offset="0.800" stop-color="#fe9f6d"/><stop offset="0.850" stop-color="#feb77e"/><stop offset="0.900" stop-color="#fecf92"/><stop offset="0.950" stop-color="#fde7a9"/><stop offset="1.000" stop-color="#fcfdbf"/></linearGradient></defs>
<rect x="352.00" y="68.00" width="7.00" height="136.50" fill="url(#cb)"/>
<path d="M359.00 74.83h-4.20M359.00 81.65h-4.20M359.00 88.47h-4.20M359.00 95.30h-7.00M359.00 102.12h-4.20M359.00 108.95h-4.20M359.00 115.78h-4.20M359.00 122.60h-7.00M359.00 129.43h-4.20M359.00 136.25h-4.20M359.00 143.07h-4.20M359.00 149.90h-7.00M359.00 156.72h-4.20M359.00 163.55h-4.20M359.00 170.38h-4.20M359.00 177.20h-7.00M359.00 184.03h-4.20M359.00 190.85h-4.20M359.00 197.68h-4.20" stroke="#000" stroke-width="1.7" fill="none"/>
<rect x="352.00" y="68.00" width="7.00" height="136.50" fill="none" stroke="#000" stroke-width="1.9"/>
<text x="364.90" y="74.60" font-size="17.10" font-family="Liberation Sans, sans-serif" letter-spacing="0.0" stroke="#000" stroke-width="0.25">1.0</text>
<text x="364.90" y="101.90" font-size="17.10" font-family="Liberation Sans, sans-serif" letter-spacing="0.0" stroke="#000" stroke-width="0.25">0.8</text>
<text x="364.90" y="129.20" font-size="17.10" font-family="Liberation Sans, sans-serif" letter-spacing="0.0" stroke="#000" stroke-width="0.25">0.6</text>
<text x="364.90" y="156.50" font-size="17.10" font-family="Liberation Sans, sans-serif" letter-spacing="0.0" stroke="#000" stroke-width="0.25">0.4</text>
<text x="364.90" y="183.80" font-size="17.10" font-family="Liberation Sans, sans-serif" letter-spacing="0.0" stroke="#000" stroke-width="0.25">0.2</text>
<text x="364.90" y="211.10" font-size="17.10" font-family="Liberation Sans, sans-serif" letter-spacing="0.0" stroke="#000" stroke-width="0.25">0.0</text>
<text x="349.30" y="40.80" font-size="17.70" font-family="Liberation Sans, sans-serif" font-style="italic" stroke="#000" stroke-width="0.25">P</text>
<text x="360.90" y="44.60" font-size="13.40" font-family="Liberation Sans, sans-serif" font-style="italic" stroke="#000" stroke-width="0.3">ℓ</text>
<text x="365.60" y="43.90" font-size="12.60" font-family="Liberation Sans, sans-serif" font-style="italic" stroke="#000" stroke-width="0.3">′</text>
<text x="365.10" y="47.10" font-size="8.60" font-family="Liberation Sans, sans-serif"  stroke="#000" stroke-width="0.25">1</text>
<text x="371.10" y="44.00" font-size="12.00" font-family="Liberation Sans, sans-serif"  stroke="#000" stroke-width="0.25">,</text>
<text x="378.40" y="44.60" font-size="13.40" font-family="Liberation Sans, sans-serif" font-style="italic" stroke="#000" stroke-width="0.3">ℓ</text>
<text x="383.10" y="43.90" font-size="12.60" font-family="Liberation Sans, sans-serif" font-style="italic" stroke="#000" stroke-width="0.3">′</text>
<text x="382.90" y="47.30" font-size="8.60" font-family="Liberation Sans, sans-serif"  stroke="#000" stroke-width="0.25">2</text>
<text x="125.30" y="107.20" font-size="15.20" font-family="Liberation Sans, sans-serif" fill="#fff" letter-spacing="0.5" stroke="#fff" stroke-width="0.25">1,3</text>
<text x="296.30" y="107.50" font-size="15.20" font-family="Liberation Sans, sans-serif" letter-spacing="0.5" stroke="#000" stroke-width="0.25">3,1</text>
<text x="125.50" y="256.30" font-size="15.20" font-family="Liberation Sans, sans-serif" letter-spacing="0.5" stroke="#000" stroke-width="0.25">2,2</text>
<text x="202.50" y="187.00" font-size="15.20" font-family="Liberation Sans, sans-serif" letter-spacing="0.5" stroke="#000" stroke-width="0.25">2,1</text>
<text x="202.60" y="259.20" font-size="15.20" font-family="Liberation Sans, sans-serif" letter-spacing="0.5" stroke="#000" stroke-width="0.25">1,2</text>
<text x="0.00" y="32.80" font-size="19.00" font-family="Liberation Sans, sans-serif" font-style="italic" stroke="#000" stroke-width="0.25">k</text>
<text x="10.50" y="35.80" font-size="12.00" font-family="Liberation Sans, sans-serif"  stroke="#000" stroke-width="0.25">1</text>
<text x="5.20" y="57.00" font-size="10.50" font-family="Liberation Sans, sans-serif" font-style="italic" stroke="#000" stroke-width="0.25">π</text>
<rect x="5.00" y="60.15" width="7.2" height="0.9" fill="#000"/>
<text x="5.50" y="70.20" font-size="10.50" font-family="Liberation Sans, sans-serif"  stroke="#000" stroke-width="0.25">4</text>
<text x="3.90" y="130.80" font-size="17.30" font-family="Liberation Sans, sans-serif"  stroke="#000" stroke-width="0.25">0</text>
<text x="170.50" y="32.80" font-size="19.00" font-family="Liberation Sans, sans-serif" font-style="italic" stroke="#000" stroke-width="0.25">k</text>
<text x="181.00" y="35.80" font-size="12.00" font-family="Liberation Sans, sans-serif"  stroke="#000" stroke-width="0.25">1</text>
<text x="175.40" y="57.00" font-size="10.50" font-family="Liberation Sans, sans-serif" font-style="italic" stroke="#000" stroke-width="0.25">π</text>
<rect x="175.20" y="60.15" width="7.2" height="0.9" fill="#000"/>
<text x="175.70" y="70.20" font-size="10.50" font-family="Liberation Sans, sans-serif"  stroke="#000" stroke-width="0.25">4</text>
<text x="174.40" y="130.80" font-size="17.30" font-family="Liberation Sans, sans-serif"  stroke="#000" stroke-width="0.25">0</text>
<text x="0.00" y="182.00" font-size="19.00" font-family="Liberation Sans, sans-serif" font-style="italic" stroke="#000" stroke-width="0.25">k</text>
<text x="10.50" y="185.00" font-size="12.00" font-family="Liberation Sans, sans-serif"  stroke="#000" stroke-width="0.25">1</text>
<text x="5.20" y="207.40" font-size="10.50" font-family="Liberation Sans, sans-serif" font-style="italic" stroke="#000" stroke-width="0.25">π</text>
<rect x="5.00" y="210.55" width="7.2" height="0.9" fill="#000"/>
<text x="5.50" y="220.60" font-size="10.50" font-family="Liberation Sans, sans-serif"  stroke="#000" stroke-width="0.25">4</text>
<text x="3.90" y="278.90" font-size="17.30" font-family="Liberation Sans, sans-serif"  stroke="#000" stroke-width="0.25">0</text>
<text x="170.50" y="177.30" font-size="19.00" font-family="Liberation Sans, sans-serif" font-style="italic" stroke="#000" stroke-width="0.25">k</text>
<text x="181.00" y="180.30" font-size="12.00" font-family="Liberation Sans, sans-serif"  stroke="#000" stroke-width="0.25">1</text>
<text x="175.40" y="147.70" font-size="10.50" font-family="Liberation Sans, sans-serif" font-style="italic" stroke="#000" stroke-width="0.25">π</text>
<rect x="175.20" y="150.85" width="7.2" height="0.9" fill="#000"/>
<text x="175.70" y="160.90" font-size="10.50" font-family="Liberation Sans, sans-serif"  stroke="#000" stroke-width="0.25">4</text>
<text x="174.40" y="206.40" font-size="17.30" font-family="Liberation Sans, sans-serif"  stroke="#000" stroke-width="0.25">0</text>
<text x="170.50" y="249.20" font-size="19.00" font-family="Liberation Sans, sans-serif" font-style="italic" stroke="#000" stroke-width="0.25">k</text>
<text x="181.00" y="252.20" font-size="12.00" font-family="Liberation Sans, sans-serif"  stroke="#000" stroke-width="0.25">1</text>
<text x="175.40" y="220.20" font-size="10.50" font-family="Liberation Sans, sans-serif" font-style="italic" stroke="#000" stroke-width="0.25">π</text>
<rect x="175.20" y="223.35" width="7.2" height="0.9" fill="#000"/>
<text x="175.70" y="233.40" font-size="10.50" font-family="Liberation Sans, sans-serif"  stroke="#000" stroke-width="0.25">4</text>
<text x="174.40" y="278.30" font-size="17.30" font-family="Liberation Sans, sans-serif"  stroke="#000" stroke-width="0.25">0</text>
<text x="39.50" y="289.40" font-size="19.00" font-family="Liberation Sans, sans-serif" font-style="italic" stroke="#000" stroke-width="0.25">k</text>
<text x="50.00" y="292.40" font-size="12.00" font-family="Liberation Sans, sans-serif"  stroke="#000" stroke-width="0.25">2</text>
<rect x="78.00" y="287.0" width="10.8" height="1.2" fill="#000"/>
<text x="91.00" y="284.60" font-size="10.50" font-family="Liberation Sans, sans-serif" font-style="italic" stroke="#000" stroke-width="0.25">π</text>
<rect x="90.50" y="288.3" width="8.3" height="0.9" fill="#000"/>
<text x="91.30" y="298.80" font-size="10.50" font-family="Liberation Sans, sans-serif"  stroke="#000" stroke-width="0.25">4</text>
<text x="156.90" y="291.30" font-size="17.30" font-family="Liberation Sans, sans-serif"  stroke="#000" stroke-width="0.25">0</text>
<text x="209.80" y="289.40" font-size="19.00" font-family="Liberation Sans, sans-serif" font-style="italic" stroke="#000" stroke-width="0.25">k</text>
<text x="220.30" y="292.40" font-size="12.00" font-family="Liberation Sans, sans-serif"  stroke="#000" stroke-width="0.25">2</text>
<rect x="248.30" y="287.0" width="10.8" height="1.2" fill="#000"/>
<text x="261.30" y="284.60" font-size="10.50" font-family="Liberation Sans, sans-serif" font-style="italic" stroke="#000" stroke-width="0.25">π</text>
<rect x="260.80" y="288.3" width="8.3" height="0.9" fill="#000"/>
<text x="261.60" y="298.80" font-size="10.50" font-family="Liberation Sans, sans-serif"  stroke="#000" stroke-width="0.25">4</text>
<text x="327.20" y="291.30" font-size="17.30" font-family="Liberation Sans, sans-serif"  stroke="#000" stroke-width="0.25">0</text>
</svg>
</body></html>
